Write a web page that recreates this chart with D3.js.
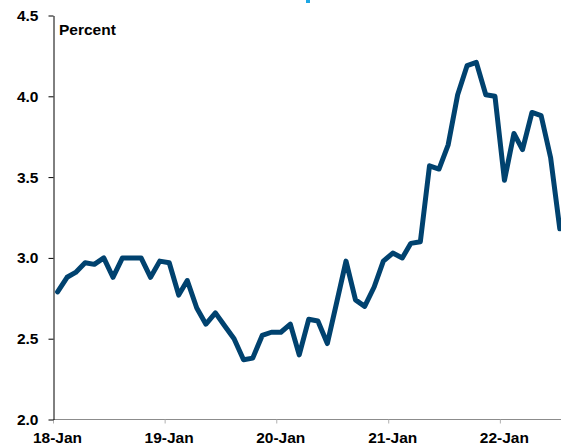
<!DOCTYPE html>
<html>
<head>
<meta charset="utf-8">
<script src="https://cdn.jsdelivr.net/npm/d3@7"></script>
<style>
  html, body { margin: 0; padding: 0; background: #fff; overflow: hidden; }
  text { font-family: "Liberation Sans", Arial, sans-serif; font-weight: bold; }
</style>
</head>
<body>
<div id="chart"></div>
<script>
// monthly series, Jan 2018 .. Jul 2022
const firstMonth = new Date(2018, 0, 1)
const lastMonth = new Date(2022, 6, 1)
const values = [
  2.79, 2.88, 2.91, 2.97, 2.96, 3.00, 2.88, 3.00, 3.00, 3.00, 2.88, 2.98,
  2.97, 2.77, 2.86, 2.69, 2.59, 2.66, 2.58, 2.50, 2.37, 2.38, 2.52, 2.54,
  2.54, 2.59, 2.40, 2.62, 2.61, 2.47, 2.72, 2.98, 2.74, 2.70, 2.82, 2.98,
  3.03, 3.00, 3.09, 3.10, 3.57, 3.55, 3.70, 4.01, 4.19, 4.21, 4.01, 4.00,
  3.48, 3.77, 3.67, 3.90, 3.88, 3.62, 3.18
]
const xTickYears = [2018, 2019, 2020, 2021, 2022]
const xTickLabels = ['18-Jan', '19-Jan', '20-Jan', '21-Jan', '22-Jan']
const yTicks = [2.0, 2.5, 3.0, 3.5, 4.0, 4.5]
const unitLabel = 'Percent'

const width = 561
const height = 445

const months = d3.timeMonth.range(firstMonth, d3.timeMonth.offset(lastMonth, 1))
const data = months.map((m, i) => ({ date: new Date(m.getFullYear(), m.getMonth(), 16), value: values[i] }))

const svg = d3.select('#chart')
  .append('svg')
  .attr('width', width)
  .attr('height', height)

// escalas
const x = d3.scaleTime()
  .domain([new Date(2018, 0, 1), new Date(2023, 0, 1)])
  .range([53, 611.5])

const y = d3.scaleLinear()
  .domain([2.0, 4.5])
  .range([419.5, 15.5])

// eje x (gris)
const xAxis = svg.append('g')
  .attr('transform', 'translate(0,419.5)')
  .call(d3.axisBottom(x)
    .tickValues(xTickYears.map(yr => new Date(yr, 0, 1)))
    .tickFormat((d, i) => xTickLabels[i])
    .tickSizeInner(4)
    .tickSizeOuter(0)
    .tickPadding(8))
xAxis.select('.domain').attr('stroke', '#8c8c8c').attr('d', 'M53,0H' + width)
xAxis.selectAll('.tick line').attr('stroke', '#b0b0b0')
xAxis.selectAll('.tick text')
  .attr('fill', '#000')
  .attr('font-size', '15.5px')
  .attr('dx', '4')

// eje y
const yAxis = svg.append('g')
  .attr('transform', 'translate(53.5,0)')
  .call(d3.axisLeft(y)
    .tickValues(yTicks)
    .tickFormat(d3.format('.1f'))
    .tickSizeInner(5)
    .tickSizeOuter(0)
    .tickPadding(10))
yAxis.select('.domain').attr('stroke', '#000')
yAxis.selectAll('.tick line').attr('stroke', '#000')
yAxis.selectAll('.tick text')
  .attr('fill', '#000')
  .attr('font-size', '15.5px')

// linea
const line = d3.line()
  .x(d => x(d.date))
  .y(d => y(d.value))

svg.append('path')
  .datum(data)
  .attr('fill', 'none')
  .attr('stroke', '#00426f')
  .attr('stroke-width', 5)
  .attr('stroke-linejoin', 'round')
  .attr('stroke-linecap', 'round')
  .attr('d', line)

// unidad
svg.append('text')
  .attr('x', 59)
  .attr('y', 35)
  .attr('font-size', '15.5px')
  .attr('fill', '#000')
  .text(unitLabel)

// resto del titulo cortado arriba
svg.append('rect')
  .attr('x', 306)
  .attr('y', 0)
  .attr('width', 4)
  .attr('height', 3)
  .attr('fill', '#1ea7e4')
</script>
</body>
</html>
